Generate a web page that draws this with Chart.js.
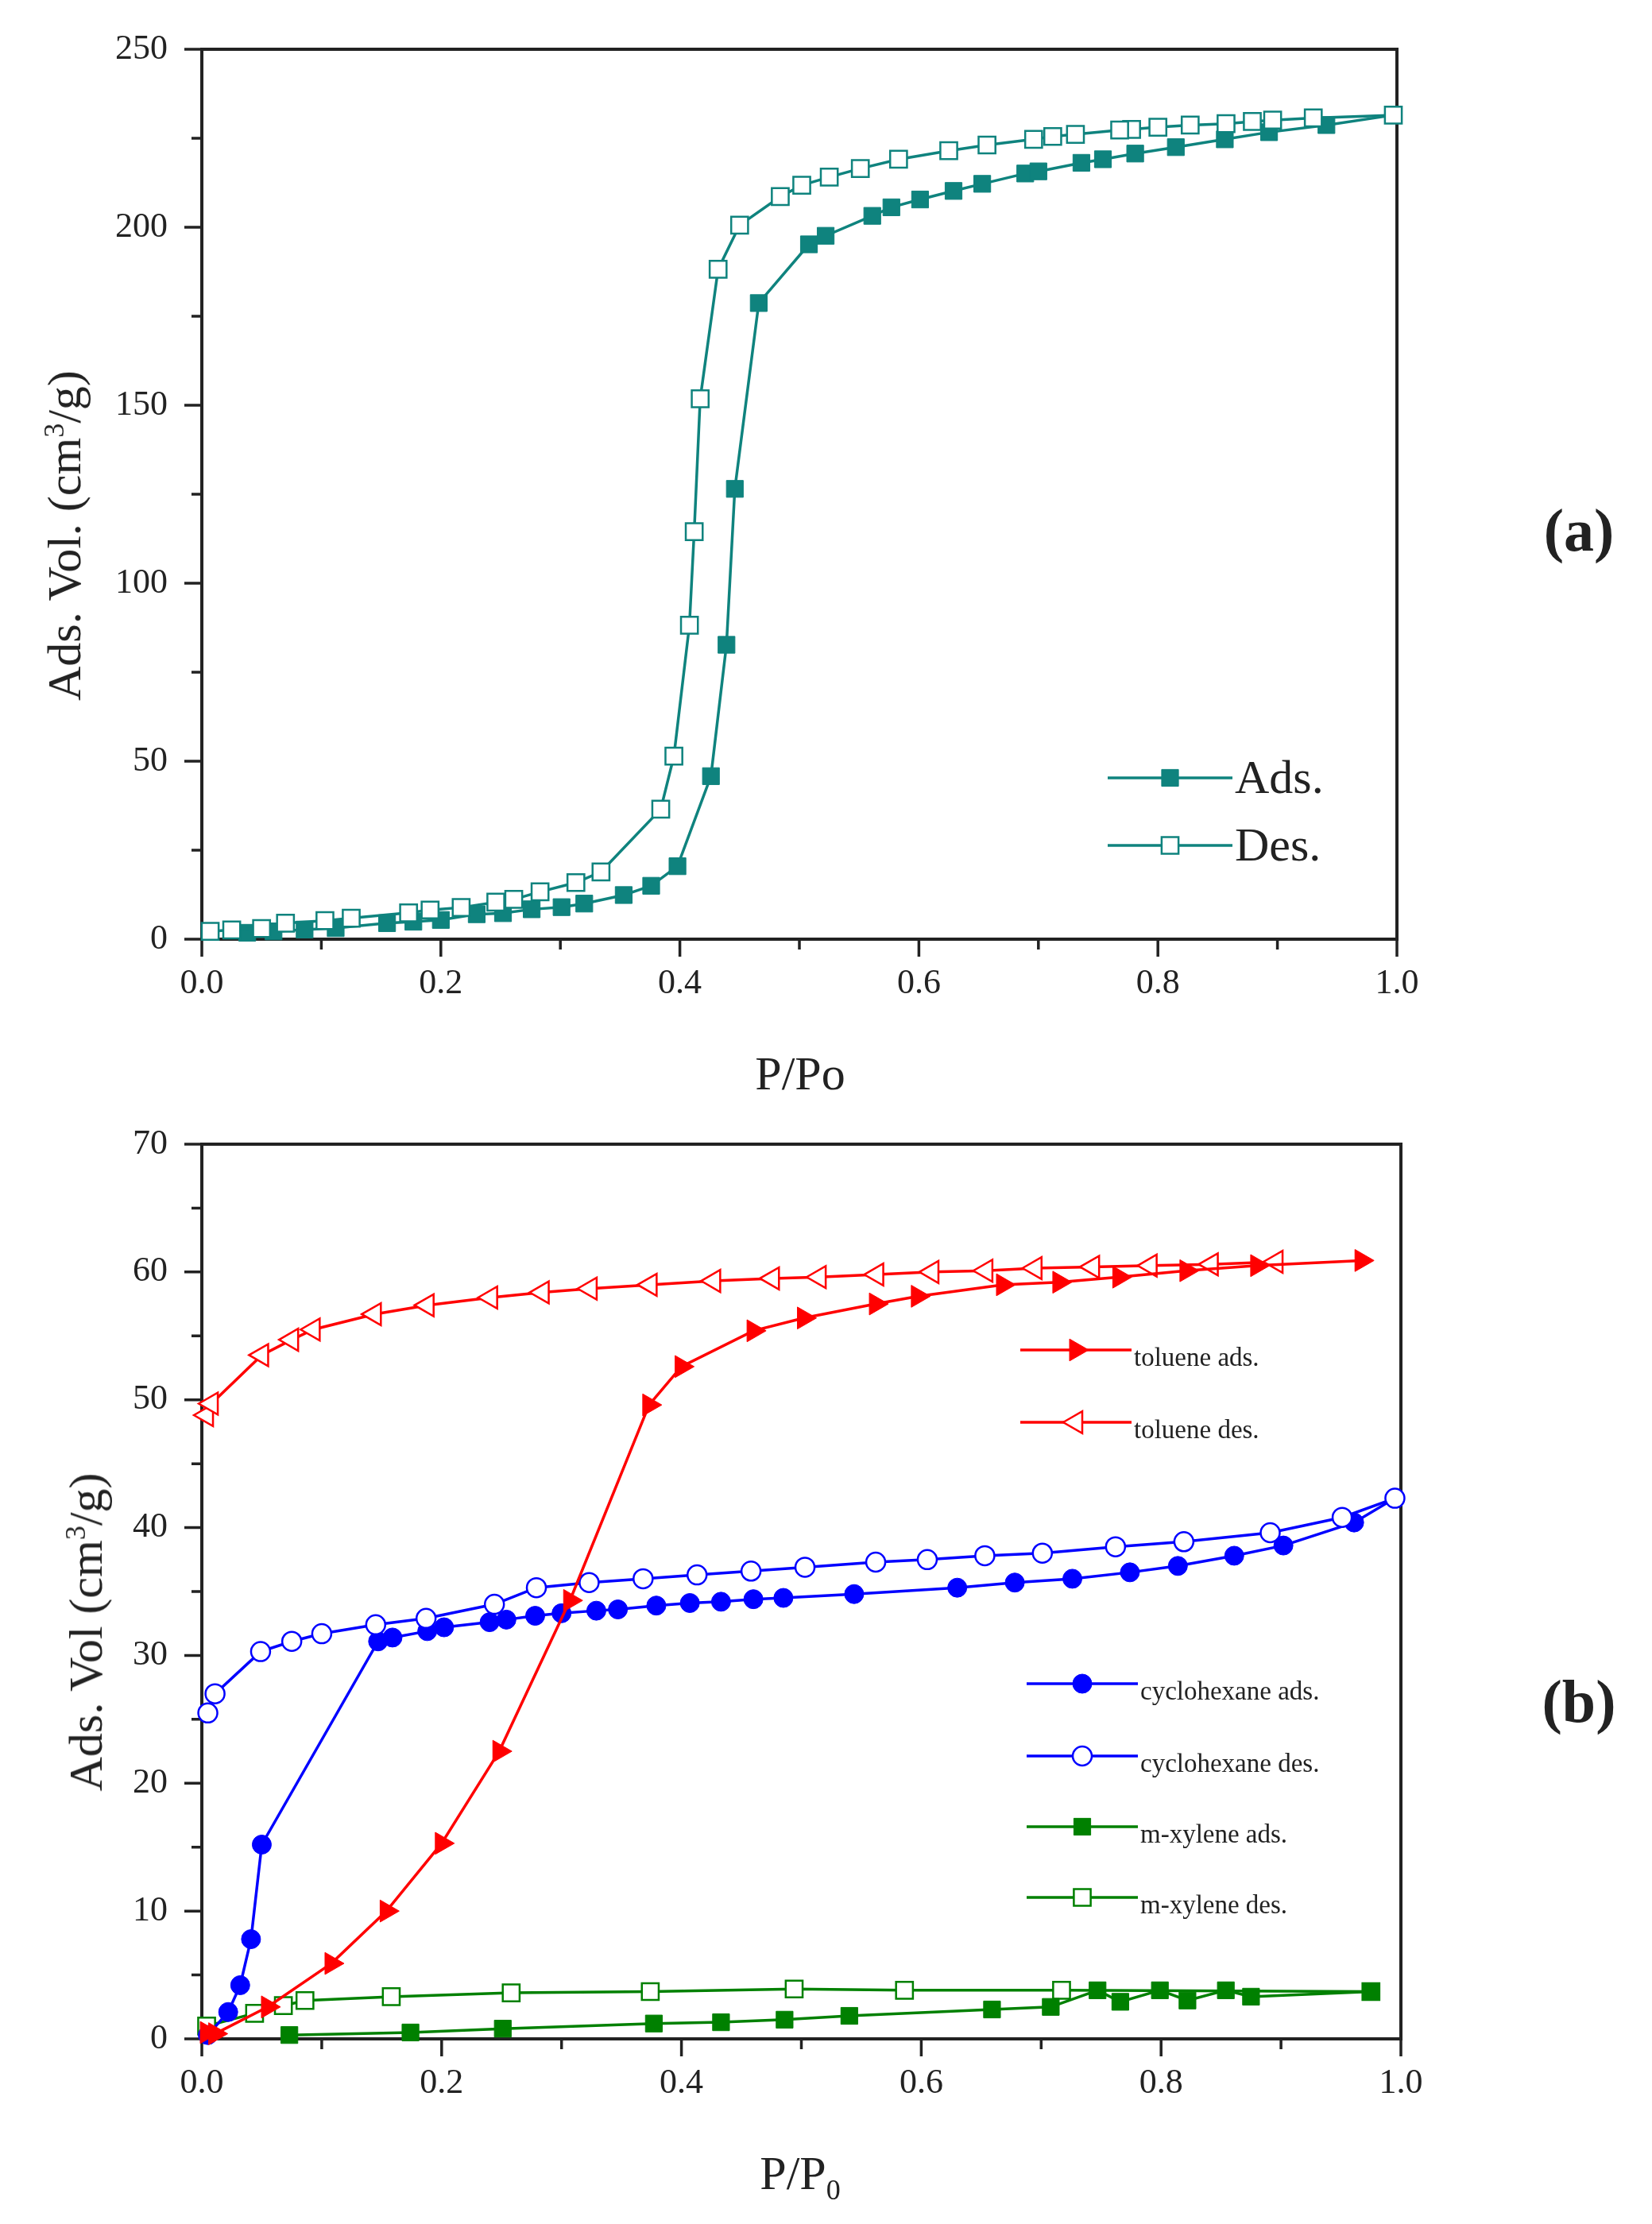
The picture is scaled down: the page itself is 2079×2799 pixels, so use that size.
<!DOCTYPE html>
<html lang="en">
<head>
    <meta charset="UTF-8">
    <title>Isotherms</title>
    <script src="https://cdn.jsdelivr.net/npm/chart.js@4.4.0/dist/chart.umd.min.js"></script>
    <style>
        body {
            margin: 0;
            width: 2079px;
            height: 2799px;
            background: #fff;
            position: relative;
            overflow: hidden;
            font-family: "Liberation Serif", "DejaVu Serif", serif;
            color: #222;
        }
        canvas { position: absolute; left: 0; }
        .lbl {
            position: absolute;
            line-height: 1;
            white-space: nowrap;
            transform: translate(-50%, -50%);
            font-size: 60px;
        }
        .rot { transform: translate(-50%, -50%) rotate(-90deg); }
        .tag { font-weight: bold; font-size: 76px; }
        sup, sub { font-size: 0.6em; line-height: 0; }
    </style>
</head>
<body>
    <canvas id="chartA" width="2079" height="1400" style="top:0;width:2079px;height:1400px"></canvas>
    <canvas id="chartB" width="2079" height="1399" style="top:1400px;width:2079px;height:1399px"></canvas>

    <div class="lbl rot" style="left:81px;top:674px">Ads. Vol. (cm<sup>3</sup>/g)</div>
    <div class="lbl" style="left:1007px;top:1351px">P/Po</div>
    <div class="lbl tag" style="left:1987px;top:667px">(a)</div>

    <div class="lbl rot" style="left:108px;top:2054px">Ads. Vol (cm<sup>3</sup>/g)</div>
    <div class="lbl" style="left:1007px;top:2735px">P/P<sub>0</sub></div>
    <div class="lbl tag" style="left:1987px;top:2141px">(b)</div>

    <script>
        // ---- panel (a): N2 isotherm ----
        const adsP = [0.038, 0.060, 0.086, 0.112, 0.155, 0.177, 0.200, 0.230, 0.252, 0.276, 0.301, 0.320,
            0.353, 0.376, 0.398, 0.426, 0.439, 0.446, 0.466, 0.508, 0.522, 0.561, 0.577, 0.601, 0.629,
            0.653, 0.689, 0.700, 0.736, 0.754, 0.781, 0.815, 0.856, 0.893, 0.941, 0.997];
        const adsV = [1.8, 2.2, 2.7, 3.1, 4.5, 4.9, 5.4, 7.0, 7.3, 8.4, 9.0, 10.0,
            12.4, 15.0, 20.5, 45.8, 82.7, 126.5, 178.7, 195.2, 197.6, 203.2, 205.6, 207.8, 210.2,
            212.2, 215.1, 215.7, 218.1, 219.1, 220.7, 222.5, 224.7, 226.7, 228.7, 231.5];

        const desP = [0.997, 0.930, 0.896, 0.879, 0.857, 0.827, 0.800, 0.778, 0.768, 0.731, 0.712, 0.696,
            0.657, 0.625, 0.583, 0.551, 0.525, 0.502, 0.484, 0.450, 0.432, 0.417, 0.412, 0.408, 0.395,
            0.384, 0.334, 0.313, 0.283, 0.261, 0.246, 0.217, 0.191, 0.173, 0.125, 0.103, 0.070, 0.050,
            0.025, 0.007];
        const desV = [231.5, 230.7, 230.1, 229.7, 229.1, 228.7, 228.1, 227.5, 227.3, 226.1, 225.5, 224.7,
            223.1, 221.5, 219.1, 216.5, 214.1, 211.8, 208.6, 200.6, 188.2, 151.8, 114.5, 88.2, 51.4,
            36.5, 18.9, 15.9, 13.3, 11.2, 10.4, 8.9, 8.2, 7.4, 5.9, 5.2, 4.5, 3.0,
            2.6, 2.2];

        // ---- panel (b): VOC isotherms ----
        const tolAdsP = [0.004, 0.011, 0.055, 0.108, 0.154, 0.200, 0.248, 0.307, 0.373, 0.400, 0.460,
            0.502, 0.562, 0.597, 0.668, 0.715, 0.765, 0.821, 0.880, 0.967];
        const tolAdsV = [0.5, 0.4, 2.5, 5.9, 10.0, 15.3, 22.5, 34.3, 49.6, 52.6, 55.4,
            56.4, 57.5, 58.1, 59.0, 59.2, 59.6, 60.1, 60.5, 60.9];

        const tolDesP = [0.004, 0.008, 0.050, 0.075, 0.093, 0.144, 0.188, 0.241, 0.284, 0.324, 0.374,
            0.427, 0.476, 0.515, 0.563, 0.609, 0.654, 0.695, 0.743, 0.791, 0.842, 0.896];
        const tolDesV = [48.8, 49.7, 53.5, 54.7, 55.5, 56.7, 57.4, 58.0, 58.4, 58.7, 59.0,
            59.3, 59.5, 59.6, 59.8, 60.0, 60.1, 60.3, 60.4, 60.5, 60.6, 60.8];

        const cycAdsP = [0.005, 0.022, 0.032, 0.041, 0.050, 0.147, 0.159, 0.188, 0.202, 0.240, 0.254,
            0.278, 0.300, 0.329, 0.347, 0.379, 0.407, 0.433, 0.460, 0.485, 0.544, 0.630, 0.678,
            0.726, 0.774, 0.814, 0.861, 0.902, 0.961, 0.995];
        const cycAdsV = [0.3, 2.1, 4.2, 7.8, 15.2, 31.1, 31.4, 31.9, 32.2, 32.6, 32.8,
            33.1, 33.3, 33.5, 33.6, 33.9, 34.1, 34.2, 34.4, 34.5, 34.8, 35.3, 35.7,
            36.0, 36.5, 37.0, 37.8, 38.6, 40.4, 42.3];

        const cycDesP = [0.005, 0.011, 0.049, 0.075, 0.100, 0.145, 0.187, 0.244, 0.279, 0.323, 0.368,
            0.413, 0.458, 0.503, 0.562, 0.605, 0.653, 0.701, 0.762, 0.819, 0.891, 0.951, 0.995];
        const cycDesV = [25.5, 27.0, 30.3, 31.1, 31.7, 32.4, 32.9, 34.0, 35.3, 35.7, 36.0,
            36.3, 36.6, 36.9, 37.3, 37.5, 37.8, 38.0, 38.5, 38.9, 39.6, 40.8, 42.3];

        const xylAdsP = [0.073, 0.174, 0.251, 0.377, 0.433, 0.486, 0.540, 0.659, 0.708, 0.747, 0.766,
            0.799, 0.822, 0.854, 0.875, 0.975];
        const xylAdsV = [0.3, 0.5, 0.8, 1.2, 1.3, 1.5, 1.8, 2.3, 2.5, 3.8, 2.9,
            3.8, 3.0, 3.8, 3.3, 3.7];

        const xylDesP = [0.004, 0.044, 0.068, 0.086, 0.158, 0.258, 0.374, 0.494, 0.586, 0.717, 0.975];
        const xylDesV = [1.0, 2.0, 2.6, 3.0, 3.3, 3.6, 3.7, 3.9, 3.8, 3.8, 3.7];

        const xTicks = [0.0, 0.2, 0.4, 0.6, 0.8, 1.0];
        const yTicksA = [0, 50, 100, 150, 200, 250];
        const yTicksB = [0, 10, 20, 30, 40, 50, 60, 70];

        const TEAL = '#0f837e';
        const RED = '#ff0000';
        const BLUE = '#0000ff';
        const GREEN = '#008000';
        const INK = '#222';
        const FONT = '"Liberation Serif", "DejaVu Serif", serif';

        const pts = (xs, ys) => xs.map((x, i) => ({ x: x, y: ys[i] }));

        function series(label, xs, ys, color, style, radius, filled, rotation) {
            return {
                label: label,
                data: pts(xs, ys),
                showLine: true,
                borderColor: color,
                borderWidth: 3.5,
                pointStyle: style,
                pointRadius: radius,
                pointRotation: rotation || 0,
                pointBackgroundColor: filled ? color : '#fff',
                pointBorderColor: color,
                pointBorderWidth: filled ? 1 : 2.5,
                clip: false,
                tension: 0
            };
        }

        // box round the plot plus outward major/minor ticks
        const frame = {
            id: 'frame',
            beforeDatasetsDraw(chart) {
                const { ctx, chartArea: a } = chart;
                ctx.save();
                ctx.strokeStyle = INK;
                ctx.lineWidth = 4;
                ctx.strokeRect(a.left, a.top, a.right - a.left, a.bottom - a.top);
                ctx.lineWidth = 3.5;
                ctx.beginPath();
                chart.scales.x.ticks.forEach(t => {
                    const px = chart.scales.x.getPixelForValue(t.value);
                    const len = t.label !== '' ? 22 : 13;
                    ctx.moveTo(px, a.bottom);
                    ctx.lineTo(px, a.bottom + len);
                });
                chart.scales.y.ticks.forEach(t => {
                    const py = chart.scales.y.getPixelForValue(t.value);
                    const len = t.label !== '' ? 22 : 13;
                    ctx.moveTo(a.left, py);
                    ctx.lineTo(a.left - len, py);
                });
                ctx.stroke();
                ctx.restore();
            }
        };

        // legend drawn inside the plot: line, marker in the middle, text to the right
        const inLegend = {
            id: 'inLegend',
            afterDraw(chart, args, opts) {
                const ctx = chart.ctx;
                (opts.items || []).forEach(it => {
                    const ds = chart.data.datasets[it.index];
                    ctx.save();
                    ctx.strokeStyle = ds.borderColor;
                    ctx.lineWidth = ds.borderWidth;
                    ctx.beginPath();
                    ctx.moveTo(it.x0, it.y);
                    ctx.lineTo(it.x1, it.y);
                    ctx.stroke();
                    ctx.fillStyle = ds.pointBackgroundColor;
                    ctx.strokeStyle = ds.pointBorderColor;
                    ctx.lineWidth = ds.pointBorderWidth;
                    Chart.helpers.drawPoint(ctx, {
                        pointStyle: ds.pointStyle,
                        rotation: ds.pointRotation,
                        radius: ds.pointRadius,
                        borderWidth: ds.pointBorderWidth
                    }, (it.x0 + it.x1) / 2, it.y);
                    ctx.fillStyle = INK;
                    ctx.font = opts.size + 'px ' + FONT;
                    ctx.textBaseline = 'middle';
                    ctx.textAlign = 'left';
                    ctx.fillText(ds.label, it.x1 + 3, it.y + opts.dy);
                    ctx.restore();
                });
            }
        };

        function axes(yMax, yStep, yList, xHeight) {
            const tickFont = { family: FONT, size: 44 };
            return {
                x: {
                    type: 'linear', min: 0, max: 1,
                    grid: { display: false, drawTicks: false },
                    border: { display: false },
                    afterFit: s => {
                        s.height = xHeight;
                        s.paddingLeft = 0;
                        s.paddingRight = 0;
                    },
                    ticks: {
                        stepSize: 0.1, autoSkip: false, maxRotation: 0, padding: 30,
                        color: INK, font: tickFont,
                        callback: v => xTicks.some(t => Math.abs(t - v) < 1e-6) ? v.toFixed(1) : ''
                    }
                },
                y: {
                    type: 'linear', min: 0, max: yMax,
                    grid: { display: false, drawTicks: false },
                    border: { display: false },
                    afterFit: s => {
                        s.width = 254;
                        s.paddingTop = 0;
                        s.paddingBottom = 0;
                    },
                    ticks: {
                        stepSize: yStep, autoSkip: false, padding: 43,
                        color: INK, font: tickFont,
                        callback: v => yList.some(t => Math.abs(t - v) < 1e-6) ? String(v) : ''
                    }
                }
            };
        }

        // Panel (a)
        new Chart(document.getElementById('chartA').getContext('2d'), {
            type: 'scatter',
            data: {
                datasets: [
                    series('Des.', desP, desV, TEAL, 'rect', 15, false),
                    series('Ads.', adsP, adsV, TEAL, 'rect', 15, true)
                ]
            },
            options: {
                responsive: false,
                animation: false,
                devicePixelRatio: 1,
                layout: { padding: { left: 0, top: 62, right: 2079 - 1758, bottom: 0 } },
                scales: axes(250, 25, yTicksA, 1400 - 1182),
                plugins: {
                    legend: { display: false },
                    tooltip: { enabled: false },
                    inLegend: {
                        size: 60, dy: 3,
                        items: [
                            { index: 1, x0: 1394, x1: 1551, y: 979 },
                            { index: 0, x0: 1394, x1: 1551, y: 1064 }
                        ]
                    }
                }
            },
            plugins: [frame, inLegend]
        });

        // Panel (b)
        new Chart(document.getElementById('chartB').getContext('2d'), {
            type: 'scatter',
            data: {
                datasets: [
                    series('toluene ads.', tolAdsP, tolAdsV, RED, 'triangle', 16, true, 90),
                    series('toluene des.', tolDesP, tolDesV, RED, 'triangle', 16, false, -90),
                    series('cyclohexane des.', cycDesP, cycDesV, BLUE, 'circle', 12, false),
                    series('cyclohexane ads.', cycAdsP, cycAdsV, BLUE, 'circle', 12, true),
                    series('m-xylene ads.', xylAdsP, xylAdsV, GREEN, 'rect', 15, true),
                    series('m-xylene des.', xylDesP, xylDesV, GREEN, 'rect', 15, false)
                ]
            },
            options: {
                responsive: false,
                animation: false,
                devicePixelRatio: 1,
                layout: { padding: { left: 0, top: 40, right: 2079 - 1763, bottom: 0 } },
                scales: axes(70, 5, yTicksB, 1399 - 1166),
                plugins: {
                    legend: { display: false },
                    tooltip: { enabled: false },
                    inLegend: {
                        size: 33, dy: 11,
                        items: [
                            { index: 0, x0: 1284, x1: 1424, y: 299 },
                            { index: 1, x0: 1284, x1: 1424, y: 390 },
                            { index: 3, x0: 1292, x1: 1432, y: 719 },
                            { index: 2, x0: 1292, x1: 1432, y: 810 },
                            { index: 4, x0: 1292, x1: 1432, y: 899 },
                            { index: 5, x0: 1292, x1: 1432, y: 988 }
                        ]
                    }
                }
            },
            plugins: [frame, inLegend]
        });
    </script>
</body>
</html>
